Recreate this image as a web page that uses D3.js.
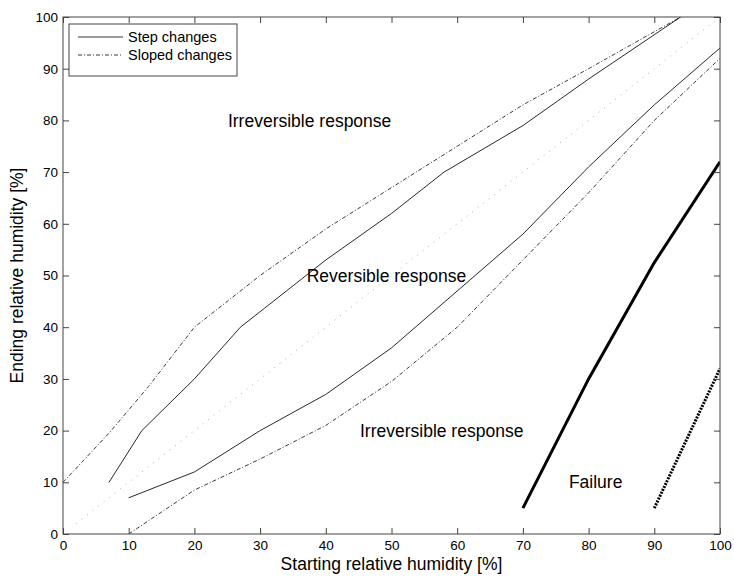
<!DOCTYPE html>
<html><head><meta charset="utf-8">
<script src="https://cdn.jsdelivr.net/npm/d3@7"></script>
<style>body{margin:0;background:#fff}svg{display:block}text{font-family:"Liberation Sans",Arial,sans-serif}</style>
</head><body>
<script>
const xTicks = [0,10,20,30,40,50,60,70,80,90,100];
const yTicks = [0,10,20,30,40,50,60,70,80,90,100];
const stepUpper = [[7,10],[12,20],[20,30],[27,40],[40,53],[50,62],[58,70],[70,79],[80,88],[94,100]];
const stepLower = [[10,7],[20,12],[30,20],[40,27],[50,36],[60,47],[70,58],[80,71],[90,83],[100,94]];
const slopedUpper = [[0,10],[7,19.5],[13,28.5],[20,40],[30,50],[40,59],[50,67],[60,75],[70,83],[80,90],[94,100]];
const slopedLower = [[10,0],[20,8.5],[30,14.5],[40,21],[50,29.5],[60,40],[70,53],[80,66],[90,80],[100,92]];
const diagonal = [[2,2],[100,100]];
const failureStep = [[70,5],[80,30],[90,52.5],[100,72]];
const failureSloped = [[90,5],[100,32]];
const regionLabels = [
  {text:"Irreversible response", x:25.1, y:80},
  {text:"Reversible response", x:37.1, y:50},
  {text:"Irreversible response", x:45.2, y:20},
  {text:"Failure", x:77, y:10}
];
const legendItems = [{label:"Step changes", dash:null},{label:"Sloped changes", dash:"4,2,1,2"}];

const W=734,H=576;
const m={l:63,r:14,t:17,b:42};
const svg=d3.select("body").append("svg").attr("width",W).attr("height",H);
const x=d3.scaleLinear().domain([0,100]).range([m.l,W-m.r]);
const y=d3.scaleLinear().domain([0,100]).range([H-m.b,m.t]);
const clip=svg.append("clipPath").attr("id","c").append("rect")
  .attr("x",x(0)).attr("y",y(100)).attr("width",x(100)-x(0)).attr("height",y(0)-y(100));
const line=d3.line().x(d=>x(d[0])).y(d=>y(d[1]));
const plot=svg.append("g").attr("clip-path","url(#c)");
function draw(data,w,dash,col){
  const p=plot.append("path").attr("d",line(data)).attr("fill","none")
    .attr("stroke",col||"#000").attr("stroke-width",w);
  if(dash)p.attr("stroke-dasharray",dash);
}
draw(diagonal,1,"1,6","#aaa");
draw(slopedUpper,0.9,"4,2,1,2","#222");
draw(slopedLower,0.9,"4,2,1,2","#222");
draw(stepUpper,0.9,null,"#111");
draw(stepLower,0.9,null,"#111");
draw(failureStep,3,null,"#000");
draw(failureSloped,3,"2,1.2","#000");

const tl=6;
const ax=svg.append("g").attr("transform",`translate(0,${y(0)})`).call(d3.axisBottom(x).tickValues(xTicks).tickSize(-tl).tickPadding(6));
const axT=svg.append("g").attr("transform",`translate(0,${y(100)})`).call(d3.axisTop(x).tickValues(xTicks).tickSize(-tl).tickFormat(""));
const ay=svg.append("g").attr("transform",`translate(${x(0)},0)`).call(d3.axisLeft(y).tickValues(yTicks).tickSize(-tl).tickPadding(5));
const ayR=svg.append("g").attr("transform",`translate(${x(100)},0)`).call(d3.axisRight(y).tickValues(yTicks).tickSize(-tl).tickFormat(""));
[ax,axT,ay,ayR].forEach(a=>{
  a.select(".domain").remove();
  a.selectAll("line").attr("stroke","#444");
  a.selectAll("text").attr("font-size",13.5).attr("fill","#000").attr("font-family","'Liberation Sans',Arial,sans-serif");
});
svg.append("rect").attr("x",x(0)).attr("y",y(100)).attr("width",x(100)-x(0)).attr("height",y(0)-y(100))
  .attr("fill","none").attr("stroke","#444").attr("stroke-width",1);

svg.append("text").attr("x",(x(0)+x(100))/2).attr("y",570).attr("text-anchor","middle")
  .attr("font-size",17.5).text("Starting relative humidity [%]");
svg.append("text").attr("transform",`translate(23,${(y(0)+y(100))/2}) rotate(-90)`).attr("text-anchor","middle")
  .attr("font-size",17.5).text("Ending relative humidity [%]");

regionLabels.forEach(d=>{
  svg.append("text").attr("x",x(d.x)).attr("y",y(d.y)).attr("dy","0.35em").attr("font-size",17.5).text(d.text);
});

const lg=svg.append("g");
lg.append("rect").attr("x",69).attr("y",24).attr("width",168).attr("height",52).attr("fill","#fff").attr("stroke","#444");
legendItems.forEach((d,i)=>{
  const yy=37+i*18;
  const l=lg.append("line").attr("x1",78).attr("x2",123).attr("y1",yy).attr("y2",yy).attr("stroke","#222").attr("stroke-width",0.9);
  if(d.dash)l.attr("stroke-dasharray",d.dash);
  lg.append("text").attr("x",128).attr("y",yy).attr("dy","0.35em").attr("font-size",14.5).text(d.label);
});
</script>
</body></html>
